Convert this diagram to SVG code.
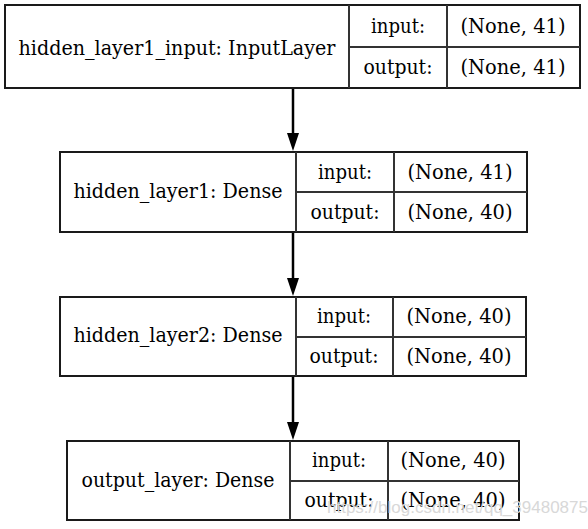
<svg xmlns="http://www.w3.org/2000/svg" width="588" height="529" viewBox="0 0 588 529">
<style>
.box{fill:#fff;stroke:#1a1a1a;stroke-width:2}
.div{stroke:#333;stroke-width:2;fill:none}
.t{font-family:"DejaVu Serif","Liberation Serif",serif;font-size:20px;fill:#000;text-anchor:middle}
.edge{stroke:#000;stroke-width:2.5;fill:none}
.wm{font-family:"Liberation Sans","DejaVu Sans",sans-serif;font-size:17px;fill:#d8d8d8}
</style>
<rect width="588" height="529" fill="#fff"/>
<g id="connectors">
<line class="edge" x1="293" y1="88" x2="293" y2="134"/>
<path d="M287,133 L299,133 L293,151 Z" fill="#000"/>
<line class="edge" x1="293" y1="232" x2="293" y2="279"/>
<path d="M287,278 L299,278 L293,296 Z" fill="#000"/>
<line class="edge" x1="293" y1="376" x2="293" y2="423"/>
<path d="M287,422 L299,422 L293,440 Z" fill="#000"/>
</g>
<g id="node1">
<rect class="box" x="5" y="5" width="575" height="83"/>
<line class="div" x1="349" y1="5" x2="349" y2="88"/>
<line class="div" x1="447" y1="5" x2="447" y2="88"/>
<line class="div" x1="349" y1="47" x2="580" y2="47"/>
<text class="t" x="177" y="55" textLength="317" lengthAdjust="spacingAndGlyphs">hidden_layer1_input: InputLayer</text>
<text class="t" x="398" y="33" textLength="54" lengthAdjust="spacingAndGlyphs">input:</text>
<text class="t" x="398" y="74" textLength="69" lengthAdjust="spacingAndGlyphs">output:</text>
<text class="t" x="513" y="33" textLength="105" lengthAdjust="spacingAndGlyphs">(None, 41)</text>
<text class="t" x="513" y="74" textLength="105" lengthAdjust="spacingAndGlyphs">(None, 41)</text>
</g>
<g id="node2">
<rect class="box" x="60" y="152" width="467" height="80"/>
<line class="div" x1="296" y1="152" x2="296" y2="232"/>
<line class="div" x1="394" y1="152" x2="394" y2="232"/>
<line class="div" x1="296" y1="192" x2="527" y2="192"/>
<text class="t" x="178" y="198" textLength="209" lengthAdjust="spacingAndGlyphs">hidden_layer1: Dense</text>
<text class="t" x="345" y="179" textLength="54" lengthAdjust="spacingAndGlyphs">input:</text>
<text class="t" x="345" y="219" textLength="69" lengthAdjust="spacingAndGlyphs">output:</text>
<text class="t" x="460" y="179" textLength="105" lengthAdjust="spacingAndGlyphs">(None, 41)</text>
<text class="t" x="460" y="219" textLength="105" lengthAdjust="spacingAndGlyphs">(None, 40)</text>
</g>
<g id="node3">
<rect class="box" x="60" y="297" width="466" height="79"/>
<line class="div" x1="296" y1="297" x2="296" y2="376"/>
<line class="div" x1="393" y1="297" x2="393" y2="376"/>
<line class="div" x1="296" y1="337" x2="526" y2="337"/>
<text class="t" x="178" y="342" textLength="209" lengthAdjust="spacingAndGlyphs">hidden_layer2: Dense</text>
<text class="t" x="344" y="323" textLength="54" lengthAdjust="spacingAndGlyphs">input:</text>
<text class="t" x="344" y="363" textLength="69" lengthAdjust="spacingAndGlyphs">output:</text>
<text class="t" x="459" y="323" textLength="105" lengthAdjust="spacingAndGlyphs">(None, 40)</text>
<text class="t" x="459" y="363" textLength="105" lengthAdjust="spacingAndGlyphs">(None, 40)</text>
</g>
<g id="node4">
<rect class="box" x="67" y="441" width="452" height="79"/>
<line class="div" x1="290" y1="441" x2="290" y2="520"/>
<line class="div" x1="388" y1="441" x2="388" y2="520"/>
<line class="div" x1="290" y1="481" x2="519" y2="481"/>
<text class="t" x="178" y="487" textLength="193" lengthAdjust="spacingAndGlyphs">output_layer: Dense</text>
<text class="t" x="339" y="467" textLength="54" lengthAdjust="spacingAndGlyphs">input:</text>
<text class="t" x="339" y="507" textLength="69" lengthAdjust="spacingAndGlyphs">output:</text>
<text class="t" x="453" y="467" textLength="105" lengthAdjust="spacingAndGlyphs">(None, 40)</text>
<text class="t" x="453" y="507" textLength="105" lengthAdjust="spacingAndGlyphs">(None, 40)</text>
</g>
<text class="wm" x="327" y="513" textLength="261" lengthAdjust="spacingAndGlyphs">https://blog.csdn.net/qq_39480875</text>
</svg>
